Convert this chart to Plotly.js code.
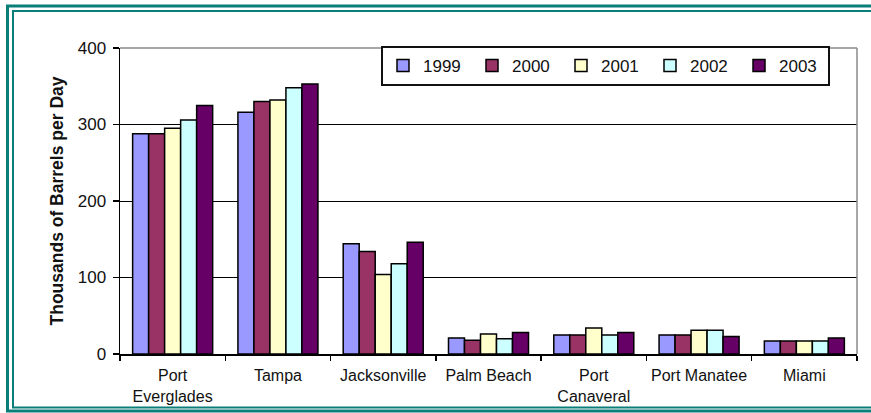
<!DOCTYPE html>
<html>
<head>
<meta charset="utf-8">
<script src="https://cdn.plot.ly/plotly-3.0.1.min.js"></script>
<style>
  html, body { margin: 0; padding: 0; background: #ffffff; }
  #chart { width: 871px; height: 413px; }
</style>
</head>
<body>
<div id="chart"></div>
<script>
// Crude oil throughput by Florida port, thousands of barrels per day
const ports = ['Port<br>Everglades', 'Tampa', 'Jacksonville', 'Palm Beach', 'Port<br>Canaveral', 'Port Manatee', 'Miami'];
const years = ['1999', '2000', '2001', '2002', '2003'];
const v1999 = [288, 316, 144, 21, 25, 25, 17];
const v2000 = [288, 330, 134, 18, 25, 25, 17];
const v2001 = [295, 332, 104, 26, 34, 31, 17];
const v2002 = [306, 348, 118, 20, 25, 31, 17];
const v2003 = [325, 353, 146, 28, 28, 23, 21];
const yTicks = [0, 100, 200, 300, 400];

const series = [v1999, v2000, v2001, v2002, v2003];
const colors = ['#9999FF', '#993366', '#FFFFCC', '#CCFFFF', '#660066'];

const W = 871, H = 413;
const M = { l: 120, r: 14, t: 48, b: 59 };
const PW = W - M.l - M.r, PH = H - M.t - M.b;
const px = x => (x - M.l) / PW;           // page x -> paper x
const py = y => (H - M.b - y) / PH;       // page y -> paper y

const font = 'Liberation Sans, Arial, sans-serif';

const traces = series.map((vals, i) => ({
  type: 'bar',
  name: years[i],
  x: ports,
  y: vals,
  marker: { color: colors[i], line: { color: '#000000', width: 1.5 } },
  hoverinfo: 'x+y+name'
}));

const layout = {
  width: W, height: H,
  margin: M,
  paper_bgcolor: '#ffffff',
  plot_bgcolor: '#ffffff',
  font: { family: font, size: 16, color: '#111111' },
  barmode: 'group',
  bargap: 0.24,
  bargroupgap: 0,
  showlegend: true,
  legend: {
    orientation: 'h',
    x: px(381), xanchor: 'left',
    y: py(46), yanchor: 'top',
    bgcolor: '#ffffff',
    bordercolor: '#111111',
    borderwidth: 2,
    entrywidth: 44,
    itemwidth: 30,
    font: { family: font, size: 17, color: '#111111' }
  },
  xaxis: {
    type: 'category',
    showline: true, linecolor: '#000000', linewidth: 1.5,
    ticks: 'outside', tickson: 'boundaries', ticklen: 5, tickcolor: '#000000', tickwidth: 1.5,
    showgrid: false,
    tickangle: 0,
    tickfont: { family: font, size: 16, color: '#111111' },
    ticklabelstandoff: 6,
    fixedrange: true
  },
  yaxis: {
    range: [0, 400],
    tickvals: yTicks,
    ticktext: yTicks.map(String),
    showline: true, linecolor: '#000000', linewidth: 1.5,
    ticks: 'outside', ticklen: 6, tickcolor: '#000000', tickwidth: 1.5,
    showgrid: true, gridcolor: '#000000', gridwidth: 1,
    zeroline: false,
    tickfont: { family: font, size: 17, color: '#111111' },
    ticklabelstandoff: 3,
    title: {
      text: 'Thousands of Barrels per Day',
      font: { family: font, size: 17.5, color: '#111111', weight: 'bold' },
      standoff: 9
    },
    fixedrange: true
  },
  shapes: [
    // plot area border, top and right
    { type: 'line', xref: 'paper', yref: 'paper', x0: 0, x1: 1, y0: 1, y1: 1,
      line: { color: '#8a8a8a', width: 1.5 }, layer: 'above' },
    { type: 'line', xref: 'paper', yref: 'paper', x0: 1, x1: 1, y0: 0, y1: 1,
      line: { color: '#8a8a8a', width: 1.5 }, layer: 'above' },
    // double teal frame round the figure
    { type: 'rect', xref: 'paper', yref: 'paper',
      x0: px(7.5), x1: px(885), y0: py(411), y1: py(6),
      line: { color: '#0a7f7a', width: 3 }, fillcolor: 'rgba(0,0,0,0)', layer: 'above' },
    { type: 'rect', xref: 'paper', yref: 'paper',
      x0: px(13), x1: px(880), y0: py(407.5), y1: py(11),
      line: { color: '#0a7f7a', width: 2 }, fillcolor: 'rgba(0,0,0,0)', layer: 'above' }
  ]
};

Plotly.newPlot('chart', traces, layout, { displayModeBar: false, staticPlot: true });
</script>
</body>
</html>
